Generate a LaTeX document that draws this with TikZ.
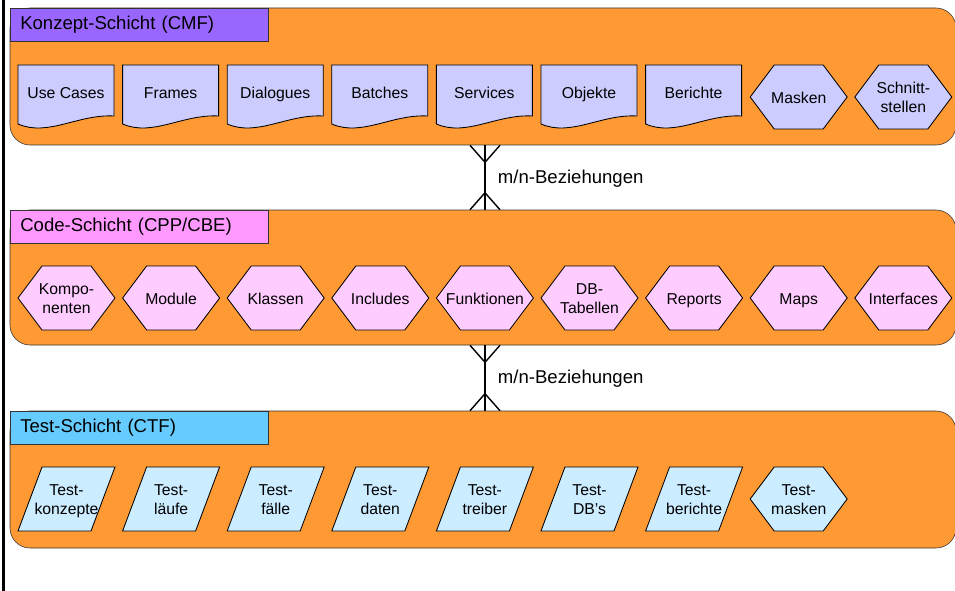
\documentclass[tikz,border=0pt]{standalone}
\usepackage{fontspec}
\setmainfont{Liberation Sans}
\usetikzlibrary{positioning,fit,calc}
\definecolor{schicht}{HTML}{FF9933}
\definecolor{cmf}{HTML}{9966FF}
\definecolor{cpp}{HTML}{FF99FF}
\definecolor{ctf}{HTML}{66CCFF}
\definecolor{cmfhell}{HTML}{CCCCFF}
\definecolor{cpphell}{HTML}{FFCCFF}
\definecolor{ctfhell}{HTML}{CCECFF}
\tikzset{
  schichtbox/.style={draw=black!80, fill=schicht, rounded corners=0.5cm, inner sep=0pt},
  titelbox/.style={draw=black!80, anchor=north west, minimum height=0.825cm, text width=5.95cm,
    inner xsep=0.25cm, inner ysep=0pt, align=left, text height=9.6pt, text depth=2.6pt,
    font=\fontsize{13.2}{15}\selectfont},
  teil/.style={draw=black, line width=0.6pt},
  teiltext/.style={align=center, inner sep=0pt, font=\fontsize{11.2}{13.4}\selectfont},
  bez/.style={line width=1pt},
  beztext/.style={anchor=west, text height=9.6pt, text depth=2.6pt, font=\fontsize{13.2}{15}\selectfont}
}
\begin{document}
\begin{tikzpicture}[x=0.025cm, y=-0.025cm]
\useasboundingbox (0,0) rectangle (955,591);
\draw [line width=1.5pt] (3.5,0) -- (3.5,591);

% Schichten
\node [schichtbox, fit={(10,8) (956,145)}] (konzept) {};
\node [schichtbox, fit={(10,210) (956,345)}] (code) {};
\node [schichtbox, fit={(10,411) (956,548)}] (test) {};
\node [titelbox, fill=cmf] (konzepttitel) at (10,8) {Konzept-Schicht (CMF)};
\node [titelbox, fill=cpp] (codetitel) at (10,210) {Code-Schicht (CPP/CBE)};
\node [titelbox, fill=ctf] (testtitel) at (10,411) {Test-Schicht (CTF)};

% Konzept-Schicht
\foreach \name [count=\i from 0] in {Use Cases, Frames, Dialogues, Batches, Services, Objekte, Berichte} {
  \pgfmathsetmacro\x{18+104.6*\i}
  \draw [teil, fill=cmfhell] (\x,65) -- ({\x+96},65) -- ({\x+96},116)
    .. controls ({\x+60},114) and ({\x+30},137) .. (\x,124) -- cycle;
  \node [teiltext] (konzept-\i) at ({\x+48},94.5) {\strut\name\strut};
}
\foreach \name [count=\i from 7] in {Masken, {Schnitt-\\stellen}} {
  \pgfmathsetmacro\x{18+104.6*\i}
  \draw [teil, fill=cmfhell] (\x,97) -- ({\x+24},65) -- ({\x+73},65) -- ({\x+97},97)
    -- ({\x+73},129) -- ({\x+24},129) -- cycle;
  \node [teiltext] (konzept-\i) at ({\x+48.5},99.5) {\strut\name\strut};
}

% Code-Schicht
\foreach \name [count=\i from 0] in {{Kompo-\\nenten}, Module, Klassen, Includes, Funktionen,
    {DB-\\Tabellen}, Reports, Maps, Interfaces} {
  \pgfmathsetmacro\x{18+104.6*\i}
  \draw [teil, fill=cpphell] (\x,298) -- ({\x+24},266) -- ({\x+73},266) -- ({\x+97},298)
    -- ({\x+73},330) -- ({\x+24},330) -- cycle;
  \node [teiltext] (code-\i) at ({\x+48.5},300.5) {\strut\name\strut};
}

% Test-Schicht
\foreach \name [count=\i from 0] in {{Test-\\konzepte}, {Test-\\läufe}, {Test-\\fälle}, {Test-\\daten},
    {Test-\\treiber}, {Test-\\DB's}, {Test-\\berichte}} {
  \pgfmathsetmacro\x{18+104.6*\i}
  \draw [teil, fill=ctfhell] (\x,531) -- ({\x+24},467) -- ({\x+97},467) -- ({\x+73},531) -- cycle;
  \node [teiltext] (test-\i) at ({\x+48.5},501.5) {\strut\name\strut};
}
\pgfmathsetmacro\x{18+104.6*7}
\draw [teil, fill=ctfhell] (\x,499) -- ({\x+24},467) -- ({\x+73},467) -- ({\x+97},499)
  -- ({\x+73},531) -- ({\x+24},531) -- cycle;
\node [teiltext] (test-7) at ({\x+48.5},501.5) {\strut Test-\\masken\strut};

% Beziehungen
\coordinate (rel) at (485,0);
\foreach \oben/\unten in {konzept/code, code/test} {
  \draw [bez] (\oben.south -| rel) -- (\unten.north -| rel);
  \draw [bez] ($(\oben.south -| rel)+(-15,0)$) -- ($(\oben.south -| rel)+(0,17)$) -- ($(\oben.south -| rel)+(15,0)$);
  \draw [bez] ($(\unten.north -| rel)+(-15,0)$) -- ($(\unten.north -| rel)+(0,-17)$) -- ($(\unten.north -| rel)+(15,0)$);
}
\node [beztext] (bez1) at (493,179) {m/n-Beziehungen};
\node [beztext] (bez2) at (493,379) {m/n-Beziehungen};
\end{tikzpicture}
\end{document}
